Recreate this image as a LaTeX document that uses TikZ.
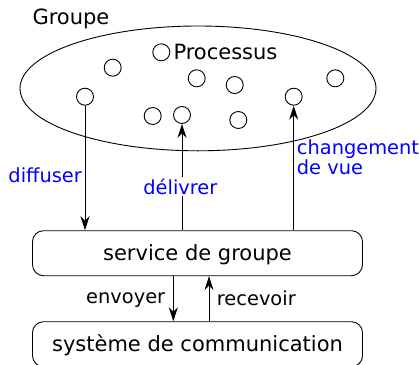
\documentclass[tikz,border=0pt]{standalone}
\usepackage{fontspec}
\setmainfont{DejaVu Sans}
\usetikzlibrary{arrows.meta}
\begin{document}
\begin{tikzpicture}[x=1pt,y=-1pt,
  every node/.style={font=\fontsize{21}{18.5}\selectfont},
  proc/.style={circle,draw,line width=0.9pt,minimum size=17pt,inner sep=0pt},
  lbl/.style={inner sep=0pt,anchor=base west},
  small/.style={font=\fontsize{19.4}{18.4}\selectfont},
  blu/.style={lbl,small,text=blue},
  layer/.style={draw,line width=0.9pt,rounded corners=11pt,minimum width=330pt,minimum height=45pt,inner sep=0pt,text height=16pt,text depth=2pt},
  arr/.style={line width=0.9pt,-{Stealth[length=14pt,width=9pt,inset=4.5pt]}},
  ln/.style={line width=0.9pt}]
\useasboundingbox (0,0) rectangle (419,364);
\clip (0,0) rectangle (419,364);
\node[lbl] (grp) at (32.3,24) {Groupe};
\draw[ln] (198,88.4) ellipse [x radius=178, y radius=62.4];
\coordinate (ell) at (198,88.4);
\node[proc] (p1) at (161.3,52.3) {};
\node[lbl] (ptxt) at (173.3,59.3) {Processus};
\node[proc] (p2) at (112.7,67.7) {};
\node[proc] (p3) at (196.7,78.3) {};
\node[proc] (p4) at (234.7,85) {};
\node[proc] (p5) at (335.3,78.3) {};
\node[proc] (p6) at (85,96.7) {};
\node[proc] (p7) at (293.7,96.7) {};
\node[proc] (p8) at (152.7,116) {};
\node[proc] (p9) at (182,115) {};
\node[proc] (p10) at (238.3,120) {};
\node[layer] (sg) at (197.5,253.2) {service de groupe};
\node[layer] (sc) at (197.5,344.2) {système de communication};
\draw[arr] (p6.south) -- (p6.south |- sg.north);
\draw[arr] (p9.south |- sg.north) -- (p9.south);
\draw[arr] (p7.south |- sg.north) -- (p7.south);
\coordinate (env) at (173.3,0);
\coordinate (rec) at (209,0);
\draw[arr] (env |- sg.south) -- (env |- sc.north);
\draw[arr] (rec |- sc.north) -- (rec |- sg.south);
\node[blu] (dif) at (8.3,182.3) {diffuser};
\node[blu,fill=white,inner sep=1.5pt] (del) at (141.7,194) {délivrer};
\node[blu,align=left] (chg) at (296.7,174.3) {changement\\de vue};
\node[lbl,small] (envt) at (86,303.3) {envoyer};
\node[lbl,small] (rect) at (216.7,305.7) {recevoir};
\end{tikzpicture}
\end{document}
